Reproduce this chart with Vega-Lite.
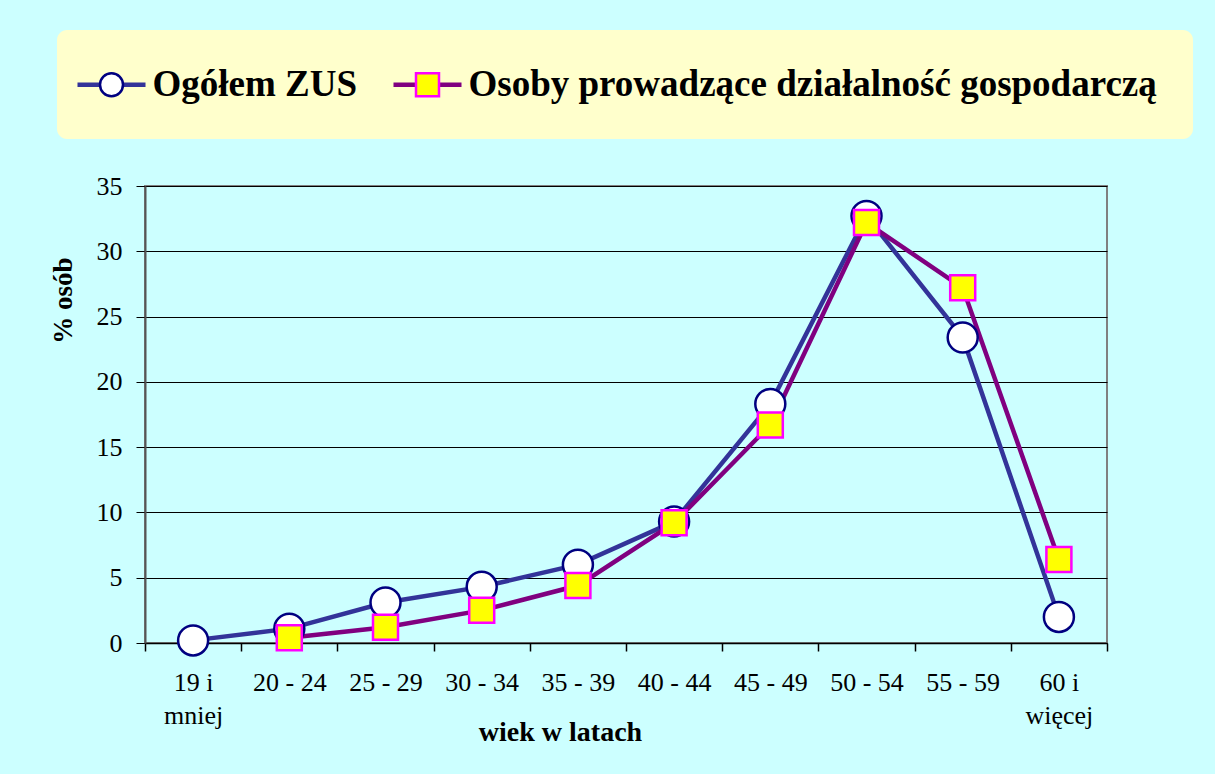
{
  "$schema": "https://vega.github.io/schema/vega-lite/v6.json",
  "width": 962,
  "height": 457,
  "autosize": {"type": "none"},
  "padding": {"left": 145, "top": 186, "right": 108, "bottom": 131},
  "background": "#CCFFFF",
  "config": {
    "view": {"stroke": "#808080", "strokeWidth": 2},
    "font": "Liberation Serif"
  },
  "data": {
    "values": [
      {"age": "19 i mniej", "series": "Ogółem ZUS", "value": 0.2},
      {"age": "20 - 24", "series": "Ogółem ZUS", "value": 1.1},
      {"age": "25 - 29", "series": "Ogółem ZUS", "value": 3.1},
      {"age": "30 - 34", "series": "Ogółem ZUS", "value": 4.3},
      {"age": "35 - 39", "series": "Ogółem ZUS", "value": 6.0},
      {"age": "40 - 44", "series": "Ogółem ZUS", "value": 9.3},
      {"age": "45 - 49", "series": "Ogółem ZUS", "value": 18.3},
      {"age": "50 - 54", "series": "Ogółem ZUS", "value": 32.7},
      {"age": "55 - 59", "series": "Ogółem ZUS", "value": 23.4},
      {"age": "60 i więcej", "series": "Ogółem ZUS", "value": 2.0},
      {"age": "19 i mniej", "series": "Osoby prowadzące działalność gospodarczą", "value": null},
      {"age": "20 - 24", "series": "Osoby prowadzące działalność gospodarczą", "value": 0.4},
      {"age": "25 - 29", "series": "Osoby prowadzące działalność gospodarczą", "value": 1.2},
      {"age": "30 - 34", "series": "Osoby prowadzące działalność gospodarczą", "value": 2.5},
      {"age": "35 - 39", "series": "Osoby prowadzące działalność gospodarczą", "value": 4.4},
      {"age": "40 - 44", "series": "Osoby prowadzące działalność gospodarczą", "value": 9.2},
      {"age": "45 - 49", "series": "Osoby prowadzące działalność gospodarczą", "value": 16.7},
      {"age": "50 - 54", "series": "Osoby prowadzące działalność gospodarczą", "value": 32.2},
      {"age": "55 - 59", "series": "Osoby prowadzące działalność gospodarczą", "value": 27.2},
      {"age": "60 i więcej", "series": "Osoby prowadzące działalność gospodarczą", "value": 6.4}
    ]
  },
  "encoding": {
    "x": {
      "field": "age",
      "type": "nominal",
      "bandPosition": 0.5,
      "scale": {
        "type": "band",
        "paddingInner": 0,
        "paddingOuter": 0,
        "domain": ["19 i mniej", "20 - 24", "25 - 29", "30 - 34", "35 - 39", "40 - 44", "45 - 49", "50 - 54", "55 - 59", "60 i więcej"]
      },
      "axis": {
        "title": "wiek w latach",
        "titleFont": "Liberation Serif",
        "titleFontSize": 28,
        "titleFontWeight": "bold",
        "titleColor": "#000000",
        "titleX": 415,
        "titleY": 97,
        "titleAlign": "center",
        "titleBaseline": "alphabetic",
        "labelFont": "Liberation Serif",
        "labelFontSize": 26,
        "labelColor": "#000000",
        "labelAngle": 0,
        "labelPadding": 18,
        "labelLineHeight": 33,
        "labelExpr": "datum.label == '19 i mniej' ? ['19 i', 'mniej'] : datum.label == '60 i więcej' ? ['60 i', 'więcej'] : datum.label",
        "tickBand": "extent",
        "tickSize": 8,
        "tickColor": "#000000",
        "tickWidth": 1.5,
        "domainColor": "#000000",
        "domainWidth": 1.5,
        "grid": false
      }
    },
    "y": {
      "field": "value",
      "type": "quantitative",
      "scale": {"domain": [0, 35], "nice": false, "zero": true},
      "axis": {
        "title": "% osób",
        "titleFont": "Liberation Serif",
        "titleFontSize": 27,
        "titleFontWeight": "bold",
        "titleColor": "#000000",
        "titleAngle": 270,
        "titleX": -74,
        "titleY": 114,
        "titleAlign": "center",
        "titleBaseline": "alphabetic",
        "values": [0, 5, 10, 15, 20, 25, 30, 35],
        "labelFont": "Liberation Serif",
        "labelFontSize": 26,
        "labelColor": "#000000",
        "labelPadding": 14,
        "tickSize": 9,
        "tickColor": "#000000",
        "tickWidth": 1,
        "domainColor": "#555555",
        "domainWidth": 2,
        "grid": true,
        "gridColor": "#000000",
        "gridWidth": 1,
        "gridOpacity": 1
      }
    }
  },
  "layer": [
    {
      "mark": {"type": "line", "strokeWidth": 4.5},
      "encoding": {
        "color": {
          "field": "series",
          "type": "nominal",
          "scale": {"range": ["#333399", "#800080"]},
          "legend": {
            "title": null,
            "orient": "none",
            "legendX": -88,
            "legendY": -156,
            "direction": "horizontal",
            "columns": 2,
            "symbolType": "M-2.957,0H-1M1,0H2.957",
            "symbolSize": 529,
            "symbolStrokeWidth": 4.5,
            "labelFont": "Liberation Serif",
            "labelFontSize": 37,
            "labelFontWeight": "bold",
            "labelColor": "#000000",
            "labelOffset": 22.5,
            "labelLimit": 3000,
            "columnPadding": 26,
            "padding": 36,
            "fillColor": "#FFFFCC",
            "cornerRadius": 10
          }
        }
      }
    },
    {
      "transform": [{"filter": "datum.series == 'Ogółem ZUS'"}],
      "mark": {"type": "point", "filled": true, "opacity": 1, "strokeWidth": 2.5, "size": 900},
      "encoding": {
        "shape": {
          "field": "series",
          "type": "nominal",
          "scale": {"domain": ["Ogółem ZUS", "Osoby prowadzące działalność gospodarczą"], "range": ["circle", "square"]},
          "legend": {
            "title": null,
            "orient": "none",
            "legendX": -88,
            "legendY": -156,
            "direction": "horizontal",
            "columns": 2,
            "symbolSize": 529,
            "symbolStrokeWidth": 2.5,
            "labelFont": "Liberation Serif",
            "labelFontSize": 37,
            "labelFontWeight": "bold",
            "labelExpr": "''",
            "labelOffset": 22.5,
            "labelLimit": 3000,
            "columnPadding": 256,
            "padding": 36
          }
        },
        "fill": {
          "field": "series",
          "type": "nominal",
          "scale": {"domain": ["Ogółem ZUS", "Osoby prowadzące działalność gospodarczą"], "range": ["#FFFFFF", "#FFFF00"]}
        },
        "stroke": {
          "field": "series",
          "type": "nominal",
          "scale": {"domain": ["Ogółem ZUS", "Osoby prowadzące działalność gospodarczą"], "range": ["#000080", "#FF00FF"]}
        }
      }
    },
    {
      "transform": [{"filter": "datum.series != 'Ogółem ZUS'"}],
      "mark": {"type": "point", "filled": true, "opacity": 1, "strokeWidth": 2.5, "size": 625},
      "encoding": {
        "shape": {"field": "series", "type": "nominal"},
        "fill": {"field": "series", "type": "nominal"},
        "stroke": {"field": "series", "type": "nominal"}
      }
    }
  ]
}
